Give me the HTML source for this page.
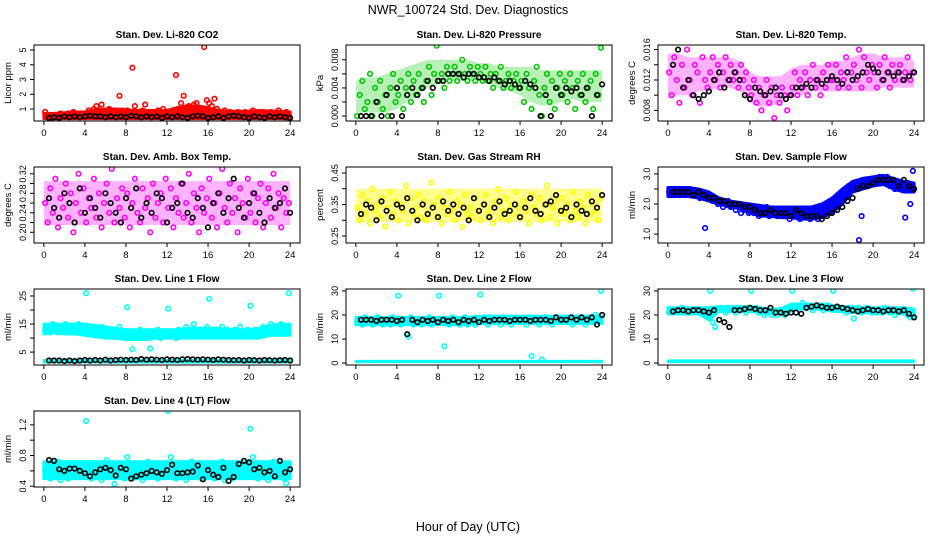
<!DOCTYPE html>
<html><head><meta charset="utf-8"><style>
html,body{margin:0;padding:0;background:#fff;}
svg{display:block;font-family:"Liberation Sans",sans-serif;}
</style></head><body>
<svg id="chart" width="936" height="540" viewBox="0 0 936 540">
<text x="468" y="14" text-anchor="middle" font-size="12.5">NWR_100724  Std. Dev. Diagnostics</text>
<text x="468" y="531" text-anchor="middle" font-size="12.5">Hour of Day (UTC)</text>
</svg>
<script>
// x-axis ticks
const xTicks = [0,4,8,12,16,20,24];
// Panel 1: CO2
const co2Col = [0.8,0.5,0.6,0.4,0.6,0.5,0.7,0.5,0.6,0.7,0.5,0.8,0.6,0.5,0.7,0.6,
0.7,0.9,0.8,1.0,1.2,0.9,1.3,0.8,0.9,1.0,0.7,0.9,0.8,1.9,0.9,0.8,
0.9,0.7,3.8,1.2,0.8,0.7,0.9,1.3,0.8,0.6,0.7,0.8,0.9,0.7,1.0,0.6,
0.7,0.8,0.6,3.3,1.0,1.4,1.9,1.1,1.2,1.0,1.3,1.4,0.9,1.0,5.2,1.6,
1.4,1.2,1.7,1.0,0.8,0.7,0.9,0.6,0.8,0.7,0.6,0.8,0.7,0.6,0.8,0.7,
0.7,0.9,0.6,0.8,0.7,0.8,0.6,0.7,0.8,0.6,0.7,0.9,0.7,0.6,0.8,0.4];
const co2Lo = [0.35,0.35,0.35,0.35,0.35,0.35,0.35,0.35,0.35,0.35,0.35,0.35,0.35,0.35,0.35,0.35,0.35,0.35,0.35,0.35,0.35,0.35,0.35,0.35,0.35];
const co2Hi = [0.7,0.7,0.75,0.8,0.8,0.95,1.0,1.0,0.95,0.9,0.9,0.9,0.9,1.1,1.2,1.2,1.1,0.9,0.85,0.85,0.85,0.9,0.85,0.85,0.8];
const co2Blk = [0.4,0.45,0.4,0.5,0.45,0.5,0.45,0.5,0.55,0.5,0.5,0.45,0.5,0.45,0.5,0.45,0.55,0.5,0.45,0.5,0.45,0.5,0.4,0.5,0.45,0.5,0.45,0.4,0.5,0.55,0.5,0.4,0.45,0.5,0.4,0.5,0.55,0.5,0.45,0.4,0.5,0.45,0.4,0.5,0.45,0.5,0.45,0.4];
// Panel 2: Pressure (x 1e-3 kPa)
const presCol = [0,3,5,1,2,6,0,4,2,5,1,3,0,4,6,2,
3,5,1,4,6,2,5,3,6,4,2,5,7,3,6,10,
5,6,4,7,5,6,7,5,6,8,6,5,7,6,5,7,
6,5,7,5,6,4,6,5,7,4,5,6,4,5,6,4,
5,2,6,4,1,5,7,3,0,4,6,2,5,1,4,6,
3,5,2,6,4,1,5,3,6,2,4,5,1,6,3,9.7];
const presLo = [0.5,0.5,0.5,0.5,1,2,3,4,4.5,5,5,5,5,4.5,4,3.5,3,2,1.5,1.5,2,2.5,2,2,2];
const presHi = [5,5.5,5.5,6,6.5,7,7.5,8,8,8,8,8,7.5,7.5,7,7,7,7,6.5,6.5,6.5,6.5,6.5,6.5,6.5];
const presBlk = [0,0,0,2,0,3,0,4,0,3,4,3,4,5,4,5,5,6,6,6,5.5,6,6,5.5,5.5,5,5.5,5,4.5,5,4.5,4,5,4.5,4,0,3,0,4,3,4,3.5,4,3,4,0,3,4.5];
// Panel 3: Li-820 Temp (x 1e-3)
const tempCol = [13,10,15,12,9,14,11,16,12,10,14,13,9,15,12,11,
13,15,12,14,11,13,15,12,14,12,13,11,14,12,13,11,
10,12,9,11,8,10,12,9,11,7,10,9,11,10,8,10,
11,13,10,12,11,13,10,12,14,11,12,10,13,11,14,12,
12,14,11,13,12,15,11,13,14,12,16,11,15,13,12,14,
13,11,14,12,15,13,11,14,12,13,14,12,13,15,12,13];
const tempLo = [9.5,10,10,10.5,10.5,11,11,10.5,9,8.5,8.5,9,10,10,10.5,10.5,10.5,10.5,10.5,10.5,10.5,11,11,11,11];
const tempHi = [15.5,15.5,15,15,15,15,15,14.5,13,12.5,12.5,12.5,13.5,14,14,14,14.5,14.5,15,15.5,15.5,15,15,15,14.5];
const tempBlk = [14,16,11,12,10,9.5,10,10.5,12,13,11,12,13,12,10,9.5,11,10.5,10,10.5,11,10,9.5,10,11,11,11.5,11,12,11.5,12,12.5,12,11.5,13,12,12.5,13,14,13.5,13,12,13,12.5,13,12,12.5,13];
// Panel 4: Amb box temp (x 0.01)
const ambCol = [26,22,29,24,31,21,27,25,30,23,28,20,26,32,24,29,
22,27,25,31,23,28,21,26,30,24,33,22,27,25,29,23,
28,21,26,31,24,22,29,25,27,20,30,23,26,28,22,31,
25,29,21,27,24,30,23,26,32,22,28,25,20,29,24,27,
31,23,26,21,28,33,25,22,30,24,27,20,29,26,23,31,
24,28,22,27,30,21,26,29,23,32,25,28,21,27,24,26];
const ambLo = [21.5,21.5,21.5,21.5,21.5,21.5,21.5,21.5,21.5,21.5,21.5,21.5,21.5,21.5,21.5,21.5,21.5,21.5,21.5,21.5,21.5,21.5,21.5,21.5,21.5];
const ambHi = [30.5,30.5,30.5,30.5,30.5,30.5,30.5,30.5,30.5,30.5,30.5,30.5,30.5,30.5,30.5,30.5,30.5,30.5,30.5,30.5,30.5,30.5,30.5,30.5,30.5];
const ambBlk = [27,25,23,28,26,22,29,24,27,25,23,28,26,24,22,27,25,29,23,26,24,28,27,22,25,26,30,24,23,27,25,21,26,28,24,27,31,25,23,26,28,24,22,27,25,26,29,24];
// Panel 5: Gas stream RH (x 0.01)
const rhCol = [34,30,38,32,36,29,40,33,35,31,37,28,34,39,32,36,
30,35,33,41,29,37,32,34,38,31,36,30,33,42,35,31,
37,29,34,32,39,33,30,36,35,28,38,32,34,31,37,33,
30,35,38,32,34,29,36,40,31,33,37,30,35,32,39,34,
31,36,33,29,38,34,32,37,30,35,41,31,34,36,29,33,
37,32,35,30,39,33,31,36,34,29,38,32,35,33,30,37];
const rhLo = [29.5,29.5,29.5,29.5,29.5,29.5,29.5,29.5,29.5,29.5,29.5,29.5,29.5,29.5,29.5,29.5,29.5,29.5,29.5,29.5,29.5,29.5,29.5,29.5,29.5];
const rhHi = [40,40,40,40,40,40,40,40,40,40,40,40,40,40,40,40,40,40,40,40,40,40,40,40,40];
const rhBlk = [32,35,34,30,36,33,31,35,34,37,33,30,35,32,34,31,36,33,35,32,34,30,37,33,35,31,34,36,32,33,35,31,34,37,33,32,35,36,38,33,34,31,35,33,32,36,34,38];
// Panel 6: Sample flow
const sfCol = [2.4,2.3,2.5,2.4,2.3,2.5,2.4,2.3,2.5,2.4,2.3,2.4,2.2,2.3,1.2,2.2,
2.2,2.1,2.2,2.0,2.1,1.9,2.0,2.1,1.9,2.0,1.8,1.9,1.7,1.8,1.9,1.7,
1.8,1.7,1.9,1.6,1.8,1.7,1.9,1.6,1.7,1.8,1.6,1.7,1.8,1.6,1.7,1.5,
1.7,1.6,1.8,1.5,1.7,1.6,1.8,1.5,1.6,1.7,1.5,1.7,1.6,1.8,1.7,1.9,
2.0,2.1,2.2,2.3,2.4,2.5,2.6,2.5,2.7,2.6,0.8,1.6,2.7,2.6,2.8,2.7,
2.8,2.7,2.9,2.8,2.7,2.9,2.6,2.8,2.5,2.7,2.6,2.5,1.55,2.7,2.0,3.1];
const sfLo = [2.25,2.25,2.25,2.2,2.1,2.0,1.9,1.85,1.7,1.6,1.6,1.55,1.55,1.5,1.5,1.55,1.7,2.0,2.4,2.5,2.6,2.65,2.5,2.4,2.4];
const sfHi = [2.55,2.55,2.55,2.5,2.4,2.2,2.1,2.05,2.0,1.95,1.9,1.9,1.9,1.9,1.9,2.0,2.2,2.5,2.75,2.85,2.9,2.95,2.85,2.75,2.7];
const sfBlk = [2.4,2.4,2.4,2.4,2.3,2.4,2.3,2.2,2.2,2.1,2.1,2.0,2.0,2.0,1.9,1.9,1.8,1.7,1.7,1.8,1.7,1.7,1.7,1.6,1.8,1.7,1.6,1.6,1.6,1.5,1.6,1.7,1.8,1.9,2.1,2.2,2.5,2.6,2.6,2.7,2.8,2.8,2.8,2.8,2.6,2.8,2.6,2.5];
// Panel 7: Line 1 flow
const l1Col = [13,14,12,15,13,12,14,13,15,12,14,13,12,15,13,14,
26,12,14,11,13,12,14,11,13,12,11,13,12,14,11,12,
21,11,6,12,10,13,11,12,10,6.3,12,11,13,10,11,12,
20.5,11,12,10,13,11,12,14,11,12,15,11,13,12,11,14,
24,12,11,13,12,14,11,13,12,11,13,12,14,11,12,13,
21.5,12,13,11,12,14,13,12,15,13,14,12,15,13,14,26];
const l1Lo = [11.5,12,11.5,11.5,11,10.5,10,10,9.5,9.5,9.5,10,10,10,10,10,10,10,10,10,10,10,11,11,11];
const l1Hi = [15,15,15,15,15,14.5,14,13.5,13,13,13,13,13,13,13.5,13.5,13.5,13.5,13,13,13,13.5,14.5,15,15];
const l1BaseLo = [1.3,1.3,1.3,1.3,1.3,1.3,1.3,1.3,1.3,1.3,1.3,1.3,1.3,1.3,1.3,1.3,1.3,1.3,1.3,1.3,1.3,1.3,1.3,1.3,1.3];
const l1BaseHi = [2.2,2.2,2.2,2.2,2.2,2.2,2.2,2.2,2.2,2.2,2.2,2.2,2.2,2.2,2.2,2.2,2.2,2.2,2.2,2.2,2.2,2.2,2.2,2.2,2.2];
const l1Blk = [2,2,2,1.8,2,1.8,2,2.2,2,2.2,2,2.3,2,2.2,2.3,2.2,2.3,2.2,2.5,2.3,2.4,2.3,2.2,2.4,2.3,2.2,2.4,2.5,2.4,2.3,2.4,2.3,2.2,2.4,2.3,2.2,2.1,2.2,2.0,2.2,2.1,2.0,2.2,2.1,2.0,2.1,2.2,2.0];
// Panel 8: Line 2 flow
const l2Col = [17,18,16,19,17,18,16,17,19,18,16,17,18,16,19,17,
28,16,18,17,11,19,16,18,17,16,18,17,19,16,17,18,
28,17,7,18,16,19,17,18,16,17,19,16,18,17,16,18,
28.5,17,18,16,19,17,18,17,16,19,17,18,16,17,19,18,
17,18,16,19,3,17,18,16,1.5,19,17,18,16,17,19,18,
17,18,19,17,16,18,19,17,18,16,19,18,17,20,18,30];
const l2Lo = [16,16,16,16,16,16,16,16,16,16,16,16,16.5,16.5,16.5,16.5,16.5,16.5,16.5,16.5,16.5,16.5,16.5,16.5,16.5];
const l2Hi = [19,19,19,19,19,19,19,19,19,19,19,19,19.5,19.5,19.5,19.5,19.5,19.5,19.5,19.5,19.5,19.5,19.5,19.5,19.5];
const l2BaseLo = [0.4,0.4,0.4,0.4,0.4,0.4,0.4,0.4,0.4,0.4,0.4,0.4,0.4,0.4,0.4,0.4,0.4,0.4,0.4,0.4,0.4,0.4,0.4,0.4,0.4];
const l2BaseHi = [0.9,0.9,0.9,0.9,0.9,0.9,0.9,0.9,0.9,0.9,0.9,0.9,0.9,0.9,0.9,0.9,0.9,0.9,0.9,0.9,0.9,0.9,0.9,0.9,0.9];
const l2Blk = [18,18,18,17.5,18,18,18,17.5,18,12,18,17,18,17.5,18,17,18,17.5,18,17,18,17.5,18,17,18,17.5,18,18,18,17.5,18,18,18,17.5,18,18,18,17.5,19,18,18,19,18,19,18,19,16,20];
// Panel 9: Line 3 flow
const l3Col = [21,22,21,22,21,23,21,22,21,22,21,22,21,22,20,19,
30,17,15,22,23,22,21,23,22,23,21,22,23,22,21,23,
30,22,23,21,22,20,21,22,20,21,20,22,21,20,21,22,
30,24,23,24,25,23,24,23,22,24,23,24,22,23,24,23,
30,23,22,23,22,21,23,22,18.5,22,23,21,22,23,22,21,
22,21,22,21,23,22,21,22,20,21,22,21,22,20,19,31];
const l3Lo = [20.5,20.5,20.5,20.5,18,21.5,21.5,21.5,21.5,21,20.5,20.5,22.5,22.5,22.5,22.5,21.5,21.5,21,21,21,21,21,20.5,19];
const l3Hi = [23,23,23,23,23,23.5,23.5,23.5,23.5,23,22.5,22.5,24.5,24.5,24.5,24.5,24,23.5,23.5,23,23,23,23,23,22.5];
const l3BaseLo = [0.4,0.4,0.4,0.4,0.4,0.4,0.4,0.4,0.4,0.4,0.4,0.4,0.4,0.4,0.4,0.4,0.4,0.4,0.4,0.4,0.4,0.4,0.4,0.4,0.4];
const l3BaseHi = [1.1,1.1,1.1,1.1,1.1,1.1,1.1,1.1,1.1,1.1,1.1,1.1,1.1,1.1,1.1,1.1,1.1,1.1,1.1,1.1,1.1,1.1,1.1,1.1,1.1];
const l3Blk = [21.5,22,22,21.5,22,22,21.5,21,22,18,17,15,22,22,22.5,23,22.5,22,22,23,21,21,20.5,21,21,20.5,23,23.5,24,23.5,23,23,23.5,23,22.5,22,21.5,22,22.5,22,22,21.5,22,22,21.5,22,20.5,19];
// Panel 10: Line 4 (LT) flow
const l4Col = [0.6,0.7,0.5,0.65,0.55,0.72,0.48,0.62,0.68,0.5,0.58,0.7,0.52,0.64,0.56,0.6,
1.25,0.6,0.5,0.7,0.55,0.66,0.48,0.62,0.74,0.52,0.6,0.43,0.68,0.56,0.64,0.5,
0.78,0.6,0.5,0.7,0.55,0.65,0.48,0.62,0.72,0.52,0.6,0.68,0.5,0.64,0.56,0.6,
1.38,0.78,0.6,0.5,0.7,0.55,0.66,0.48,0.62,0.72,0.52,0.6,0.68,0.5,0.64,0.56,
0.6,0.7,0.5,0.65,0.55,0.72,0.48,0.62,0.68,0.5,0.58,0.7,0.52,0.64,0.56,0.6,
1.15,0.78,0.6,0.5,0.7,0.55,0.66,0.48,0.62,0.72,0.52,0.6,0.68,0.5,0.44,0.7];
const l4Lo = [0.5,0.5,0.5,0.5,0.5,0.5,0.5,0.5,0.5,0.5,0.5,0.5,0.5,0.5,0.5,0.5,0.5,0.5,0.5,0.5,0.5,0.5,0.5,0.5,0.5];
const l4Hi = [0.72,0.72,0.72,0.72,0.72,0.72,0.72,0.72,0.72,0.72,0.72,0.72,0.72,0.72,0.72,0.72,0.72,0.72,0.72,0.72,0.72,0.72,0.72,0.72,0.72];
const l4Blk = [0.74,0.73,0.62,0.6,0.63,0.63,0.6,0.57,0.53,0.58,0.62,0.64,0.61,0.54,0.64,0.62,0.5,0.53,0.55,0.57,0.6,0.58,0.56,0.61,0.68,0.57,0.57,0.58,0.59,0.67,0.49,0.61,0.55,0.52,0.64,0.47,0.52,0.69,0.73,0.71,0.62,0.64,0.58,0.6,0.53,0.73,0.58,0.62];

const panels = [
 {name:'co2',title:'Stan. Dev. Li-820 CO2',ylab:'Licor ppm',col:0,row:0,ylim:[0.19,5.34],scale:1,ticks:[1,2,3,4,5],labels:['1','2','3','4','5'],color:'#ff0000',c:co2Col,bands:[[co2Lo,co2Hi,1,3]],b:co2Blk},
 {name:'pressure',title:'Stan. Dev. Li-820 Pressure',ylab:'kPa',col:1,row:0,ylim:[-0.0007,0.0101],scale:0.001,ticks:[0,0.002,0.004,0.006,0.008],labels:['0.000','','0.004','','0.008'],color:'#00c800',c:presCol,bands:[[presLo,presHi,0.28,0]],b:presBlk},
 {name:'li820-temp',title:'Stan. Dev. Li-820 Temp.',ylab:'degrees C',col:2,row:0,ylim:[0.0066,0.0166],scale:0.001,ticks:[0.008,0.010,0.012,0.014,0.016],labels:['0.008','','0.012','','0.016'],color:'#ff00ff',c:tempCol,bands:[[tempLo,tempHi,0.3,0]],b:tempBlk},
 {name:'amb-box-temp',title:'Stan. Dev. Amb. Box Temp.',ylab:'degrees C',col:0,row:1,ylim:[0.178,0.334],scale:0.01,ticks:[0.20,0.22,0.24,0.26,0.28,0.30,0.32],labels:['0.20','','0.24','','0.28','','0.32'],color:'#ff00ff',c:ambCol,bands:[[ambLo,ambHi,0.3,0]],b:ambBlk},
 {name:'gas-stream-rh',title:'Stan. Dev. Gas Stream RH',ylab:'percent',col:1,row:1,ylim:[0.228,0.469],scale:0.01,ticks:[0.25,0.30,0.35,0.40,0.45],labels:['0.25','','0.35','','0.45'],color:'#ffff00',c:rhCol,bands:[[rhLo,rhHi,0.45,0]],b:rhBlk},
 {name:'sample-flow',title:'Stan. Dev. Sample Flow',ylab:'ml/min',col:2,row:1,ylim:[0.705,3.23],scale:1,ticks:[1.0,1.5,2.0,2.5,3.0],labels:['1.0','','2.0','','3.0'],color:'#0000ff',c:sfCol,bands:[[sfLo,sfHi,1,3]],b:sfBlk},
 {name:'line1-flow',title:'Stan. Dev. Line 1 Flow',ylab:'ml/min',col:0,row:2,ylim:[0.4,27.5],scale:1,ticks:[5,10,15,20,25],labels:['5','','15','','25'],color:'#00ffff',c:l1Col,bands:[[l1Lo,l1Hi,1,3],[l1BaseLo,l1BaseHi,1,2]],b:l1Blk},
 {name:'line2-flow',title:'Stan. Dev. Line 2 Flow',ylab:'ml/min',col:1,row:2,ylim:[-0.8,30.8],scale:1,ticks:[0,10,20,30],labels:['0','10','20','30'],color:'#00ffff',c:l2Col,bands:[[l2Lo,l2Hi,1,3],[l2BaseLo,l2BaseHi,1,2]],b:l2Blk},
 {name:'line3-flow',title:'Stan. Dev. Line 3 Flow',ylab:'ml/min',col:2,row:2,ylim:[-0.8,30.8],scale:1,ticks:[0,10,20,30],labels:['0','10','20','30'],color:'#00ffff',c:l3Col,bands:[[l3Lo,l3Hi,1,3],[l3BaseLo,l3BaseHi,1,2]],b:l3Blk},
 {name:'line4-flow',title:'Stan. Dev. Line 4 (LT) Flow',ylab:'ml/min',col:0,row:3,ylim:[0.39,1.38],scale:1,ticks:[0.4,0.6,0.8,1.0,1.2],labels:['0.4','','0.8','','1.2'],color:'#00ffff',c:l4Col,bands:[[l4Lo,l4Hi,1,3]],b:l4Blk}
];

const NS='http://www.w3.org/2000/svg';
const svg=document.getElementById('chart');
function mk(tag,attrs,parent){const e=document.createElementNS(NS,tag);for(const k in attrs)e.setAttribute(k,attrs[k]);(parent||svg).appendChild(e);return e;}

panels.forEach(p=>{
  const bx=34+p.col*312, by=45+p.row*122, bw=266, bh=76;
  const g=mk('g',{});
  
  
  const xs=h=>bx+bw*(h+0.96)/25.92;
  const ys=v=>by+bh*(p.ylim[1]-v)/(p.ylim[1]-p.ylim[0]);
  const clip='clip-'+p.name;
  const cp=mk('clipPath',{id:clip},g); mk('rect',{x:bx,y:by,width:bw,height:bh},cp);
  const pts=mk('g',{'clip-path':'url(#'+clip+')',fill:'none','stroke-width':1.6},g);
  
  
  p.bands.forEach(bd=>{
    const lo=bd[0], hi=bd[1], n=lo.length-1;
    let d='';
    hi.forEach((v,i)=>{d+=(i?'L':'M')+xs(i*24/n).toFixed(1)+' '+ys(v*p.scale).toFixed(1)+' ';});
    for(let i=n;i>=0;i--){d+='L'+xs(i*24/n).toFixed(1)+' '+ys(lo[i]*p.scale).toFixed(1)+' ';}
    const band=mk('path',{d:d+'Z',fill:p.color,'fill-opacity':bd[2],stroke:p.color,'stroke-width':bd[3],'stroke-opacity':bd[2],'stroke-linejoin':'round'},pts);
    
    
  });
  const drawSet=(arr,color,n,off,nm)=>{
    arr.forEach((v,i)=>{
      const h=(i+off)*24/n;
      const c=mk('circle',{cx:xs(h).toFixed(1),cy:ys(v*p.scale).toFixed(1),r:2.3,stroke:color},pts);
      
      
    });
  };
  drawSet(p.c,p.color,p.c.length,0.5,'std-point');
  drawSet(p.b,'#000000',p.b.length,1,'hourly-point');
  const frame=mk('rect',{x:bx,y:by,width:bw,height:bh,fill:'none',stroke:'#000','stroke-width':1},g);
  
  
  const t=mk('text',{x:bx+bw/2,y:by-7,'text-anchor':'middle','font-size':10,'font-weight':'bold'},g);
  t.textContent=p.title;
  
  
  // x axis
  mk('line',{x1:xs(0),x2:xs(24),y1:by+bh,y2:by+bh,stroke:'#000'},g);
  xTicks.forEach(v=>{
    mk('line',{x1:xs(v),x2:xs(v),y1:by+bh,y2:by+bh+4,stroke:'#000'},g);
    const tl=mk('text',{x:xs(v),y:by+bh+15,'text-anchor':'middle','font-size':9.5},g);
    tl.textContent=v;
    
    
  });
  // y axis
  mk('line',{x1:bx,x2:bx,y1:ys(p.ticks[0]),y2:ys(p.ticks[p.ticks.length-1]),stroke:'#000'},g);
  p.ticks.forEach((v,i)=>{
    const y=ys(v);
    mk('line',{x1:bx-4,x2:bx,y1:y,y2:y,stroke:'#000'},g);
    if(p.labels[i]){
      const tl=mk('text',{x:bx-8,y:y,'text-anchor':'middle','font-size':9,transform:'rotate(-90 '+(bx-8)+' '+y+')'},g);
      tl.textContent=p.labels[i];
      
      
    }
  });
  const yl=mk('text',{x:bx-23,y:by+bh/2,'text-anchor':'middle','font-size':9.5,transform:'rotate(-90 '+(bx-23)+' '+(by+bh/2)+')'},g);
  yl.textContent=p.ylab;
  
  
});
</script>
</body></html>
